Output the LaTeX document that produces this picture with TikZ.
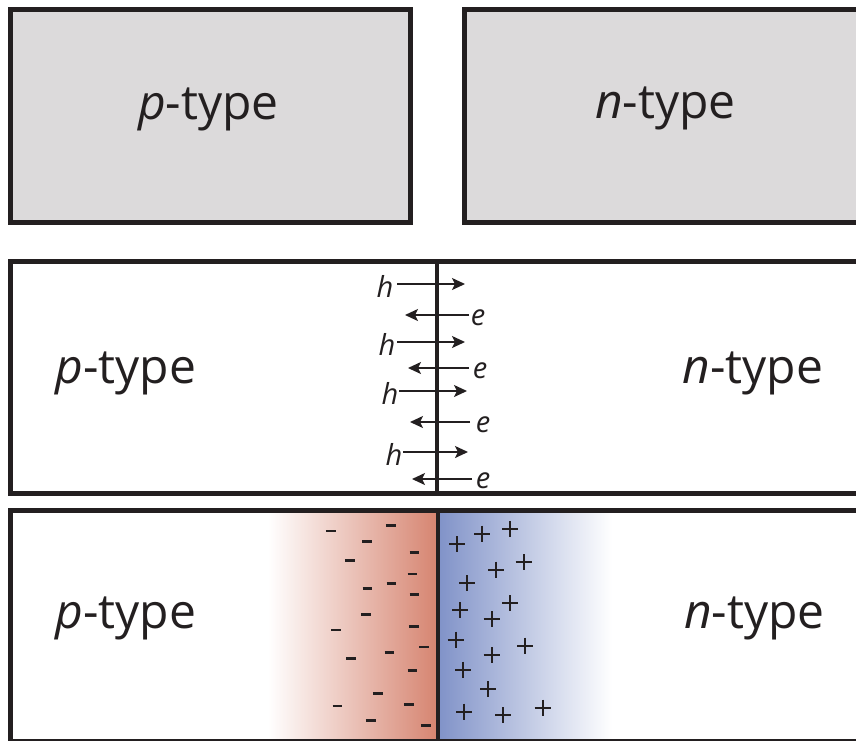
\documentclass[tikz,border=0pt]{standalone}
\usepackage{fontspec}
\setmainfont{Open Sans}
\usetikzlibrary{arrows.meta}
\definecolor{ink}{HTML}{231F20}
\definecolor{boxgray}{HTML}{DCDADB}
\definecolor{pred}{RGB}{214,132,112}
\definecolor{nblue}{RGB}{128,146,200}
\begin{document}
\begin{tikzpicture}[x=1pt,y=-1pt,
  panel/.style={draw=ink, line width=5pt, rectangle, inner sep=0pt, outer sep=0pt},
  biglabel/.style={font=\fontsize{48}{54}\selectfont, text=ink, anchor=base, inner sep=0pt},
  carrier/.style={font=\fontsize{29}{32}\selectfont\itshape, text=ink, anchor=base, inner sep=0pt},
  flow/.style={draw=ink, line width=1.8pt, -{Stealth[length=13pt,width=12pt,inset=3pt]}},
  junction/.style={draw=ink, line width=4.5pt},
  minus/.style={draw=ink, line width=2.6pt},
  plus/.style={draw=ink, line width=2pt}]
\useasboundingbox (0,0) rectangle (856,740);
\clip (0,0) rectangle (856,740);
% top panels
\node[panel, fill=boxgray, minimum width=400pt, minimum height=213pt] (ptop) at (210,115.5) {};
\node[panel, fill=boxgray, minimum width=436pt, minimum height=213pt] (ntop) at (682,115.5) {};
\node[biglabel] (ptoplbl) at (208.5,119) {\textit{p}-type};
\node[biglabel] (ntoplbl) at (665.5,118) {\textit{n}-type};
% middle panel
\node[panel, minimum width=890pt, minimum height=232pt] (mid) at (455,377) {};
\coordinate (mjt) at (437,261);
\coordinate (mjb) at (437,493);
\draw[junction] (mjt) -- (mjb);
\node[biglabel] (pmidlbl) at (126,383) {\textit{p}-type};
\node[biglabel] (nmidlbl) at (753,383) {\textit{n}-type};
% carriers
\coordinate (h1s) at (397,284); \coordinate (h1e) at (465,284);
\coordinate (e1s) at (469,315); \coordinate (e1e) at (405,315);
\coordinate (h2s) at (397,342); \coordinate (h2e) at (465,342);
\coordinate (e2s) at (469,368); \coordinate (e2e) at (408,368);
\coordinate (h3s) at (399,391); \coordinate (h3e) at (467,391);
\coordinate (e3s) at (470,422); \coordinate (e3e) at (410,422);
\coordinate (h4s) at (403,452); \coordinate (h4e) at (468,452);
\coordinate (e4s) at (472,479); \coordinate (e4e) at (412,479);
\foreach \a/\b in {h1s/h1e,e1s/e1e,h2s/h2e,e2s/e2e,h3s/h3e,e3s/e3e,h4s/h4e,e4s/e4e}
  \draw[flow] (\a) -- (\b);
\node[carrier] (h1) at (385,297) {h};
\node[carrier] (h2) at (387,355) {h};
\node[carrier] (h3) at (390,404) {h};
\node[carrier] (h4) at (394,465) {h};
\node[carrier] (e1) at (478,325) {e};
\node[carrier] (e2) at (480,378) {e};
\node[carrier] (e3) at (483,432) {e};
\node[carrier] (e4) at (483,488) {e};
% bottom panel
\shade[left color=white, right color=pred] (268,510) rectangle (438,741);
\shade[left color=nblue, right color=white] (438,510) rectangle (612,741);
\node[panel, minimum width=890pt, minimum height=231pt] (bot) at (455,625.5) {};
\coordinate (bjt) at (438,510);
\coordinate (bjb) at (438,741);
\draw[junction] (bjt) -- (bjb);
\node[biglabel] (pbotlbl) at (126,628) {\textit{p}-type};
\node[biglabel] (nbotlbl) at (754.5,628) {\textit{n}-type};
% fixed charges
\foreach \x/\y in {330.7/531, 390.7/525.7, 367/541.3, 414.3/552.7, 349.7/560.3, 412.3/574,
  391.3/583.3, 367.3/588.3, 414.3/594.3, 366/614.3, 336/630, 413.7/626.7, 424/647,
  351/658.3, 389.3/652.7, 412.3/670.7, 377.7/693.7, 337.3/706, 408.7/704.7,
  370.7/720.7, 425.7/725.3}
  \draw[minus] (\x-4.8,\y) -- (\x+4.8,\y);
\foreach \x/\y in {457.3/544.3, 482.3/533.7, 510/529, 496.3/569.7, 523.7/562, 467.3/583.3,
  510.3/603, 460/610, 491.7/619, 455.7/639.7, 525/645.7, 491.7/655, 463.3/669.7,
  488.3/689, 464/711.7, 503.3/715.3, 542.7/707.7}
  \draw[plus] (\x-8,\y) -- (\x+8,\y) (\x,\y-8) -- (\x,\y+8);
\end{tikzpicture}
\end{document}
